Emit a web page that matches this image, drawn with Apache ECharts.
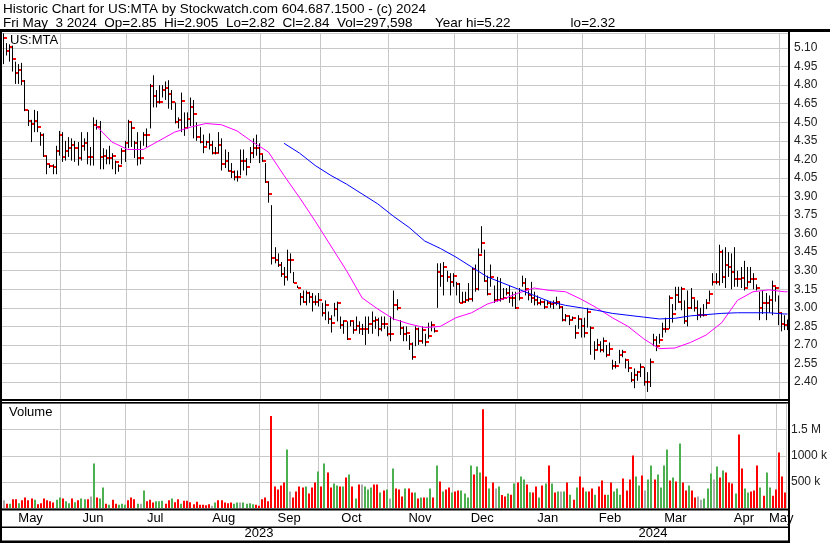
<!DOCTYPE html>
<html>
<head>
<meta charset="utf-8">
<script src="https://cdn.jsdelivr.net/npm/echarts/dist/echarts.min.js"></script>
<style>
html,body{margin:0;padding:0;background:#fff;overflow:hidden;}
#c{width:830px;height:543px;}
</style>
</head>
<body>
<div id="c"></div>
<script>
// ---------------- DATA ----------------
const titleLine1 = 'Historic Chart for US:MTA by Stockwatch.com 604.687.1500 - (c) 2024';
const titleLine2 = 'Fri May  3 2024  Op=2.85  Hi=2.905  Lo=2.82  Cl=2.84  Vol=297,598      Year hi=5.22                lo=2.32';
const symbolName = 'US:MTA';
const volumeTitle = 'Volume';

const monthNames = ['May','Jun','Jul','Aug','Sep','Oct','Nov','Dec','Jan','Feb','Mar','Apr','May'];
const monthDays  = [19,21,20,23,19,22,21,20,21,20,22,21,3];   // bars per month
const yearNames  = ['2023','2024'];
const yearFirstMonth = [0, 8];                                  // month index where each year begins

const closes = [
5.18,5.08,5.11,5.01,4.90,4.92,4.83,4.60,4.51,4.49,
4.51,4.46,4.40,4.23,4.16,4.15,4.14,4.27,4.40,4.22,
4.27,4.29,4.32,4.29,4.21,4.31,4.33,4.22,4.22,4.48,
4.46,4.22,4.23,4.21,4.21,4.23,4.18,4.15,4.27,4.33,
4.50,4.45,4.33,4.21,4.21,4.40,4.40,4.79,4.71,4.66,
4.66,4.76,4.78,4.73,4.66,4.50,4.52,4.67,4.45,4.53,
4.62,4.57,4.38,4.34,4.30,4.34,4.32,4.25,4.25,4.32,
4.16,4.19,4.11,4.10,4.06,4.06,4.19,4.19,4.14,4.25,
4.29,4.29,4.24,4.19,4.02,3.92,3.40,3.39,3.35,3.27,
3.25,3.39,3.39,3.20,3.16,3.09,3.05,3.12,3.09,3.05,
3.05,3.06,2.96,3.02,2.91,2.88,2.99,3.04,2.86,2.89,
2.75,2.89,2.82,2.85,2.83,2.83,2.83,2.87,2.89,2.90,
2.83,2.87,2.87,2.79,2.79,3.02,3.00,2.84,2.79,2.80,
2.71,2.60,2.83,2.73,2.82,2.72,2.77,2.86,2.81,3.29,
3.26,3.33,3.25,3.21,3.26,3.19,3.04,3.05,3.06,3.07,
3.31,3.15,3.43,3.52,3.22,3.11,3.25,3.06,3.06,3.07,
3.08,3.12,3.08,3.08,3.00,3.08,3.20,3.15,3.10,3.08,
3.06,3.04,3.05,3.01,3.04,3.03,3.04,3.05,3.01,2.90,
2.93,2.90,2.92,2.80,2.91,2.85,2.80,2.97,2.84,2.66,
2.70,2.66,2.73,2.62,2.67,2.53,2.53,2.62,2.64,2.58,
2.51,2.42,2.46,2.48,2.52,2.40,2.40,2.56,2.74,2.69,
2.74,2.83,2.83,3.08,2.95,3.10,3.05,3.15,2.89,3.00,
3.08,3.00,2.94,2.94,2.94,3.04,3.11,3.21,3.21,3.45,
3.25,3.35,3.33,3.29,3.23,3.23,3.24,3.16,3.21,3.23,
3.23,3.16,3.00,3.04,3.04,3.06,3.18,3.16,2.96,2.87,
2.86,2.84];

const highs = [
5.22,5.14,5.13,5.12,4.99,4.97,4.98,4.84,4.60,4.52,
4.60,4.59,4.42,4.41,4.23,4.16,4.16,4.31,4.43,4.42,
4.35,4.38,4.37,4.35,4.34,4.42,4.37,4.42,4.30,4.54,
4.52,4.51,4.29,4.28,4.31,4.25,4.19,4.16,4.29,4.35,
4.52,4.50,4.35,4.42,4.35,4.42,4.45,4.81,4.88,4.76,
4.80,4.80,4.83,4.84,4.76,4.66,4.54,4.74,4.58,4.58,
4.70,4.68,4.50,4.46,4.40,4.35,4.41,4.35,4.30,4.42,
4.37,4.28,4.26,4.17,4.11,4.11,4.28,4.28,4.21,4.30,
4.37,4.40,4.33,4.24,4.17,4.02,3.83,3.49,3.44,3.37,
3.33,3.47,3.44,3.29,3.18,3.12,3.14,3.14,3.13,3.12,
3.10,3.12,3.04,3.06,2.97,2.94,3.04,3.05,2.93,2.90,
2.89,2.90,2.89,2.93,2.89,2.87,2.93,2.93,2.97,2.93,
2.92,2.93,2.93,2.85,2.93,3.14,3.07,2.90,2.85,2.85,
2.78,2.72,2.85,2.84,2.85,2.79,2.88,2.89,2.84,3.36,
3.36,3.37,3.30,3.28,3.28,3.21,3.20,3.13,3.13,3.20,
3.33,3.35,3.48,3.66,3.47,3.26,3.35,3.18,3.25,3.24,
3.16,3.16,3.18,3.13,3.13,3.16,3.26,3.24,3.14,3.21,
3.13,3.10,3.07,3.06,3.06,3.05,3.06,3.09,3.05,3.01,
2.95,2.94,2.93,2.86,2.94,2.91,2.92,3.00,2.85,2.73,
2.75,2.73,2.76,2.70,2.72,2.58,2.57,2.66,2.66,2.59,
2.57,2.48,2.51,2.49,2.55,2.52,2.48,2.59,2.79,2.77,
2.79,2.88,2.92,3.10,3.03,3.17,3.17,3.17,3.06,3.14,
3.16,3.07,3.06,3.00,3.03,3.07,3.14,3.28,3.28,3.51,
3.47,3.49,3.45,3.44,3.49,3.30,3.33,3.38,3.33,3.33,
3.28,3.19,3.13,3.14,3.12,3.10,3.22,3.17,3.10,2.96,
2.94,2.905];

const lows = [
4.97,5.04,4.99,4.91,4.81,4.81,4.80,4.59,4.47,4.34,
4.42,4.42,4.31,4.22,4.08,4.13,4.08,4.08,4.23,4.18,
4.19,4.22,4.19,4.18,4.15,4.19,4.27,4.16,4.15,4.15,
4.44,4.12,4.12,4.16,4.16,4.12,4.08,4.10,4.16,4.18,
4.29,4.30,4.21,4.15,4.16,4.31,4.30,4.45,4.62,4.62,
4.65,4.70,4.68,4.61,4.60,4.49,4.45,4.42,4.39,4.45,
4.47,4.37,4.35,4.33,4.25,4.31,4.28,4.24,4.24,4.25,
4.11,4.13,4.10,4.05,4.03,4.02,4.07,4.11,4.07,4.17,
4.21,4.23,4.17,4.18,4.01,3.85,3.35,3.36,3.33,3.25,
3.18,3.22,3.28,3.20,3.16,3.02,3.04,3.02,3.04,2.97,
3.02,3.01,2.93,2.90,2.87,2.80,2.93,2.89,2.83,2.79,
2.74,2.85,2.79,2.82,2.79,2.78,2.70,2.79,2.79,2.83,
2.77,2.81,2.83,2.77,2.73,2.90,2.98,2.78,2.73,2.73,
2.66,2.58,2.69,2.70,2.71,2.69,2.75,2.81,2.80,3.00,
3.17,3.10,3.21,3.10,3.17,3.10,3.04,3.04,3.04,3.05,
3.05,3.13,3.14,3.44,3.21,3.10,3.17,3.04,3.05,3.05,
3.07,3.10,3.04,3.01,2.99,3.06,3.17,3.10,3.06,3.04,
3.02,3.02,3.02,2.99,3.02,3.00,2.99,3.02,2.99,2.89,
2.89,2.86,2.90,2.75,2.83,2.76,2.76,2.84,2.62,2.58,
2.66,2.64,2.64,2.60,2.62,2.50,2.51,2.55,2.60,2.51,
2.48,2.40,2.35,2.41,2.44,2.37,2.32,2.36,2.69,2.65,
2.71,2.76,2.80,2.83,2.88,2.98,3.04,2.98,2.87,2.85,
2.99,2.97,2.90,2.92,2.93,2.99,3.05,3.18,3.19,3.18,
3.20,3.16,3.25,3.15,3.17,3.17,3.16,3.14,3.17,3.20,
3.15,3.14,2.90,2.95,2.90,2.96,2.94,3.05,2.86,2.81,
2.82,2.82];

// daily volume, thousands of shares
const volumes = [
147,83,83,167,167,90,147,199,147,180,
160,71,90,180,147,128,103,160,199,180,
128,90,180,109,147,180,167,167,218,853,
199,180,391,83,64,160,83,64,83,64,
147,199,167,83,83,333,128,160,103,128,
128,141,83,147,180,109,167,83,141,141,
109,71,122,64,64,51,71,45,103,147,
147,103,90,103,83,103,103,103,83,90,
71,64,45,167,199,128,1763,410,353,429,
487,1122,314,199,314,410,391,410,276,391,
487,699,410,853,680,391,468,429,410,410,
583,641,410,180,449,449,410,353,391,449,
449,295,333,353,180,756,
372,353,218,372,372,295,295,180,199,199,
199,372,199,814,506,314,353,391,295,314,
333,333,276,199,814,641,795,680,1891,603,
372,487,372,410,250,218,276,256,468,487,
603,545,449,300,295,410,199,429,468,814,
468,295,314,314,314,487,256,160,391,603,
391,314,314,372,256,410,526,256,256,487,
314,372,256,564,333,545,1006,603,429,622,
333,545,814,545,641,391,814,1122,526,583,
506,1237,487,333,429,333,199,218,160,180,
372,660,545,795,583,718,680,487,468,276,
1410,756,372,295,314,333,814,391,237,680,
391,237,353,1064,603,298];

// close-to-close direction of each day: 1 up, -1 down, 0 unchanged
const volumeDir = [
0,-1,1,-1,-1,1,-1,-1,-1,-1,
1,-1,-1,-1,-1,-1,-1,1,1,-1,
1,1,-1,1,-1,1,1,-1,0,1,
-1,1,1,-1,1,-1,-1,1,1,1,
-1,-1,-1,1,0,1,-1,-1,-1,1,
1,1,-1,-1,1,-1,-1,1,-1,-1,
-1,-1,-1,-1,-1,-1,-1,0,1,-1,
-1,-1,-1,-1,1,1,0,1,1,1,
1,-1,-1,-1,-1,-1,-1,-1,-1,-1,
-1,1,0,-1,-1,-1,-1,1,-1,-1,
-1,1,-1,1,-1,-1,1,1,-1,1,
-1,1,-1,1,-1,0,1,1,1,-1,
-1,1,-1,1,0,1,
-1,-1,-1,1,-1,-1,1,-1,1,-1,
1,1,-1,1,-1,1,-1,-1,1,-1,
-1,1,1,1,1,-1,1,1,-1,-1,
1,-1,0,1,-1,-1,1,-1,1,-1,
1,1,-1,1,-1,-1,1,-1,1,-1,
1,-1,1,0,1,-1,1,-1,1,-1,
-1,1,-1,-1,1,-1,-1,-1,1,-1,
1,1,1,-1,-1,-1,-1,1,1,-1,
0,1,1,-1,1,1,1,1,-1,1,
-1,1,-1,-1,1,-1,-1,0,0,1,
1,1,0,1,-1,1,-1,-1,-1,1,
-1,-1,1,1,-1,-1,-1,1,-1,1,
1,-1,-1,-1,-1,-1];

// moving averages (bar index, value)
const maShortIdx = [30,35,40,45,50,55,60,65,70,75,80,85,90,95,100,105,110,115,120,125,130,135,140,145,150,155,160,165,170,175,180,185,190,195,200,205,210,215,220,225,230,235,240,245,250,251];
const maShortVal = [4.47,4.34,4.28,4.28,4.35,4.42,4.46,4.49,4.48,4.43,4.34,4.26,4.07,3.89,3.70,3.50,3.30,3.08,2.99,2.91,2.87,2.84,2.85,2.92,2.96,3.03,3.07,3.12,3.16,3.14,3.13,3.07,3.00,2.92,2.85,2.75,2.67,2.675,2.72,2.78,2.88,3.06,3.13,3.145,3.13,3.13];
const maLongIdx = [90,95,100,105,110,115,120,125,130,135,140,145,150,155,160,165,170,175,180,185,190,195,200,205,210,215,220,225,230,235,240,245,250,251];
const maLongVal = [4.33,4.25,4.15,4.07,4.00,3.92,3.84,3.74,3.65,3.54,3.48,3.41,3.33,3.25,3.20,3.15,3.10,3.05,3.02,3.00,2.98,2.955,2.94,2.925,2.91,2.915,2.935,2.945,2.955,2.96,2.96,2.96,2.95,2.95];

const priceMin = 2.25, priceMax = 5.22, priceStep = 0.15;
const volMax = 2000, volStep = 500;
const volTickLabels = {500:'500 k', 1000:'1000 k', 1500:'1.5 M'};

// ---------------- DERIVED ----------------
const categories = [], monthOfBar = [], monthStart = [];
monthDays.forEach((n, m) => {
  monthStart.push(categories.length);
  for (let d = 0; d < n; d++) { categories.push(m + '-' + d); monthOfBar.push(m); }
});
const nBars = categories.length;
const monthStartSet = new Set(monthStart.slice(1));
const monthLabelIdx = new Set(monthDays.map((n, m) => monthStart[m] + Math.floor((n - 1) / 2)));
const yearStart = yearFirstMonth.map(m => monthStart[m]);
const yearEnd = yearStart.map((s, k) => (k + 1 < yearStart.length ? yearStart[k + 1] - 1 : nBars - 1));
const yearLabelIdx = yearStart.map((s, k) => Math.floor((s + yearEnd[k]) / 2));

const FONT = 'Liberation Sans, Arial, sans-serif';
const GRID_C = '#c8c8c8';
const RED = '#ff0000', GREEN = '#4caf50', GRAY = '#aaaaaa';

const ohlcData = closes.map((c, i) => [i, highs[i], lows[i], c]);
const volData = volumes.map((v, i) => [i, v, volumeDir[i]]);

const chart = echarts.init(document.getElementById('c'), null, {renderer: 'canvas'});

function ohlcItem(params, api) {
  const i = api.value(0);
  const ph = api.coord([i, api.value(1)]);
  const pl = api.coord([i, api.value(2)]);
  const pc = api.coord([i, api.value(3)]);
  const xc = Math.round(ph[0]);
  const x = xc + 0.5;
  let y1 = ph[1], y2 = pl[1];
  if (y2 - y1 < 2) { y1 -= 1; y2 += 1; }
  return {
    type: 'group',
    children: [
      {type: 'line', shape: {x1: x, y1: y1, x2: x, y2: y2}, style: {stroke: '#000', lineWidth: 1}},
      {type: 'rect', shape: {x: xc + 1, y: Math.round(pc[1]) - 1, width: 3, height: 2}, style: {fill: RED}}
    ]
  };
}

function volItem(params, api) {
  const i = api.value(0);
  const pt = api.coord([i, api.value(1)]);
  const pb = api.coord([i, 0]);
  const d = api.value(2);
  const xc = Math.round(pt[0]);
  return {
    type: 'rect',
    shape: {x: xc, y: pt[1], width: 2, height: pb[1] - pt[1]},
    style: {fill: d > 0 ? GREEN : (d < 0 ? RED : GRAY)}
  };
}

const black = {fill: '#000'};
const option = {
  animation: false,
  backgroundColor: '#fff',
  grid: [
    {left: 1, width: 788, top: 33.2, height: (priceMax - priceMin) * 123.7},
    {left: 1, width: 788, top: 403.6, height: 104.4},
    {left: 1, width: 788, top: 510, height: 31}
  ],
  xAxis: [
    {type: 'category', gridIndex: 0, data: categories, boundaryGap: true,
     axisLine: {show: false}, axisTick: {show: false}, axisLabel: {show: false},
     splitLine: {show: true, interval: (idx) => monthStartSet.has(idx), lineStyle: {color: GRID_C, width: 1}}},
    {type: 'category', gridIndex: 1, data: categories, boundaryGap: true, position: 'bottom',
     axisLine: {show: false}, axisTick: {show: false},
     axisLabel: {show: true, interval: (idx) => monthLabelIdx.has(idx),
                 formatter: (v, idx) => monthNames[monthOfBar[idx]],
                 margin: 4, fontSize: 13, color: '#000', fontFamily: FONT, hideOverlap: false},
     splitLine: {show: true, interval: (idx) => monthStartSet.has(idx), lineStyle: {color: GRID_C, width: 1}}},
    {type: 'category', gridIndex: 2, data: categories, boundaryGap: true, position: 'bottom',
     axisLine: {show: false}, axisTick: {show: false},
     axisLabel: {show: true, inside: true, margin: 1, interval: (idx) => yearLabelIdx.includes(idx),
                 formatter: (v, idx) => yearNames[yearLabelIdx.indexOf(idx)],
                 fontSize: 13, color: '#000', fontFamily: FONT},
     splitLine: {show: true, interval: (idx) => idx === yearStart[1], lineStyle: {color: '#000', width: 1}}}
  ],
  yAxis: [
    {type: 'value', gridIndex: 0, position: 'right', min: priceMin, max: priceMax, interval: priceStep,
     axisLine: {show: false}, axisTick: {show: false},
     splitLine: {show: true, lineStyle: {color: GRID_C, width: 1}},
     axisLabel: {margin: 5, fontSize: 12, color: '#222', fontFamily: FONT,
                 formatter: (v) => (v < 2.39 || v > 5.11) ? '' : v.toFixed(2)}},
    {type: 'value', gridIndex: 1, position: 'right', min: 0, max: volMax, interval: volStep,
     axisLine: {show: false}, axisTick: {show: false},
     splitLine: {show: true, lineStyle: {color: GRID_C, width: 1}},
     axisLabel: {margin: 5, fontSize: 12, color: '#222', fontFamily: FONT,
                 formatter: (v) => volTickLabels[v] || ''}},
    {type: 'value', gridIndex: 2, show: false, min: 0, max: 1}
  ],
  series: [
    {type: 'custom', name: 'price', xAxisIndex: 0, yAxisIndex: 0, data: ohlcData,
     renderItem: ohlcItem, encode: {x: 0, y: [1, 2, 3]}, clip: true, z: 2},
    {type: 'line', name: 'ma1', xAxisIndex: 0, yAxisIndex: 0,
     data: maShortIdx.map((ix, k) => [ix, maShortVal[k]]),
     showSymbol: false, symbol: 'none', lineStyle: {color: '#ff00ff', width: 1}, z: 3},
    {type: 'line', name: 'ma2', xAxisIndex: 0, yAxisIndex: 0,
     data: maLongIdx.map((ix, k) => [ix, maLongVal[k]]),
     showSymbol: false, symbol: 'none', lineStyle: {color: '#0000ff', width: 1}, z: 3},
    {type: 'custom', name: 'volume', xAxisIndex: 1, yAxisIndex: 1, data: volData,
     renderItem: volItem, encode: {x: 0, y: 1}, clip: true, z: 2}
  ],
  graphic: [
    {type: 'text', left: 3, top: 2, z: 100, style: {text: titleLine1, font: '13.5px ' + FONT, fill: '#000'}},
    {type: 'text', left: 3, top: 16, z: 100, style: {text: titleLine2, font: '13.5px ' + FONT, fill: '#000'}},
    {type: 'text', left: 10, top: 34, z: 100, style: {text: symbolName, font: '13px ' + FONT, fill: '#000'}},
    {type: 'text', left: 9, top: 406, z: 100, style: {text: volumeTitle, font: '13px ' + FONT, fill: '#000'}},
    {type: 'rect', z: 100, shape: {x: 0, y: 29, width: 830, height: 3}, style: black},
    {type: 'rect', z: 100, shape: {x: 0, y: 29, width: 2, height: 514}, style: black},
    {type: 'rect', z: 100, shape: {x: 788, y: 29, width: 2, height: 514}, style: black},
    {type: 'rect', z: 100, shape: {x: 0, y: 399, width: 790, height: 2}, style: black},
    {type: 'rect', z: 100, shape: {x: 0, y: 402, width: 790, height: 1.5}, style: black},
    {type: 'rect', z: 100, shape: {x: 0, y: 508.5, width: 790, height: 2}, style: black},
    {type: 'rect', z: 100, shape: {x: 0, y: 526.5, width: 790, height: 1.5}, style: black},
    {type: 'rect', z: 100, shape: {x: 0, y: 540.5, width: 790, height: 2.5}, style: black}
  ]
};
chart.setOption(option);
</script>
</body>
</html>
